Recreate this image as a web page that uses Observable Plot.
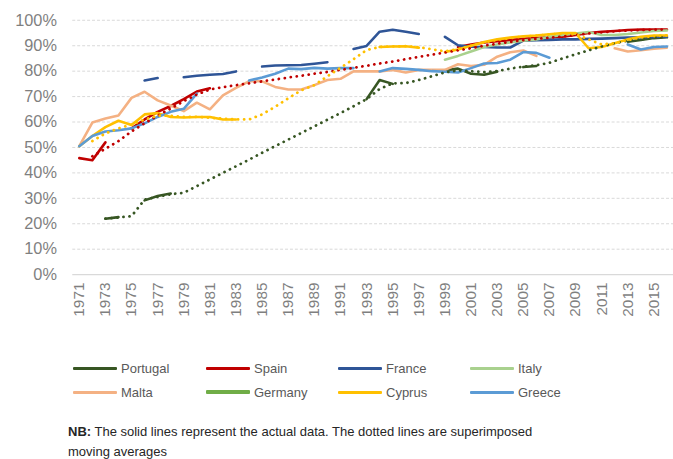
<!DOCTYPE html>
<html>
<head>
<meta charset="utf-8">
<script src="https://cdn.jsdelivr.net/npm/d3@7"></script>
<script src="https://cdn.jsdelivr.net/npm/@observablehq/plot@0.6"></script>
<style>
  html, body { margin: 0; padding: 0; background: #fff; }
  #wrap { position: relative; width: 673px; height: 459px; overflow: hidden; font-family: "Liberation Sans", Arial, sans-serif; }
  #chart { position: absolute; left: 0; top: 0; }
  .leg { position: absolute; display: flex; align-items: center; font-size: 13px; color: #595959; white-space: nowrap; }
  .leg .sw { width: 44px; margin-right: 4px; border-radius: 1px; }
  #note { position: absolute; left: 68px; top: 422px; font-size: 13px; line-height: 20px; color: #262626; }
</style>
</head>
<body>
<div id="wrap">
  <div id="chart"></div>
  <div id="legend"></div>
  <div id="note"><b>NB:</b> The solid lines represent the actual data. The dotted lines are superimposed<br>moving averages</div>
</div>
<script>
const years = [1971,1972,1973,1974,1975,1976,1977,1978,1979,1980,1981,1982,1983,1984,1985,1986,1987,1988,1989,1990,1991,1992,1993,1994,1995,1996,1997,1998,1999,2000,2001,2002,2003,2004,2005,2006,2007,2008,2009,2010,2011,2012,2013,2014,2015,2016];
const xTickYears = [1971,1973,1975,1977,1979,1981,1983,1985,1987,1989,1991,1993,1995,1997,1999,2001,2003,2005,2007,2009,2011,2013,2015];
const yTicks = [0,10,20,30,40,50,60,70,80,90,100];

const countries = ["Portugal","Spain","France","Italy","Malta","Germany","Cyprus","Greece"];
const colors = ["#375623","#C00000","#2F5597","#A9D18E","#F4B183","#70AD47","#FFC000","#5B9BD5"];

// actual data (null = no data)
const portugal = [null,null,22,22.6,null,29.2,30.9,31.9,null,null,null,null,null,null,null,null,null,null,null,null,null,null,69,76.5,75,null,null,null,80.3,81,79,78.6,79.8,null,81.6,82,null,null,null,null,null,null,91.6,92.3,93,93.3];
const spain = [45.8,45,52,null,57.5,61,64,66.3,69,72,73.3,null,null,null,null,null,null,null,null,null,null,null,null,null,null,null,null,null,null,89.5,90.5,91.3,91.8,92.2,92.7,93,93.3,93.5,94.2,95,95.5,95.8,96.2,96.4,96.4,96.4];
const france = [null,null,null,null,null,76.3,77.3,null,77.6,78.2,78.6,78.9,79.9,null,81.8,82.2,82.3,82.4,82.9,83.5,null,88.7,89.9,95.5,96.3,95.5,94.6,null,93.5,90.2,89.6,89.5,89.3,89.3,92,92.2,92.3,92.5,92.5,92.7,92.8,93,93.2,93.3,93.4,93.5];
const italy = [null,null,null,null,null,null,null,null,null,null,null,null,null,null,null,null,null,null,null,null,null,null,null,null,null,null,null,null,84.5,86,87.7,89.5,90.5,91.3,92,92.5,93.5,94.2,94.8,95.4,94.2,94.2,94.6,95.2,95.8,96];
const malta = [50.5,59.8,61.4,62.6,69.5,71.9,68.5,66.5,64.3,67.6,65,70.5,73.4,76,76,73.8,72.8,72.8,74.5,76.5,77,79.9,79.9,79.9,80.5,79.5,80.5,80.5,80.5,82.7,82,82.5,85.7,87.4,88.1,86,null,null,null,null,null,89,87.7,88.2,88.8,89.2];
const germany = years.map(() => null);
const cyprus = [50.5,54.5,58,60.5,58.8,63,63.5,62,61.8,62,62,61,61,null,null,null,null,null,null,null,null,null,null,89.5,89.7,89.8,89.2,null,87.5,88.5,90,91.5,92.5,93.2,93.7,94,94.5,95,95,89,89.5,91,92.5,93.5,94,94];
const greece = [50.5,54.5,56.3,56.8,57.5,59.5,62,64,65.2,71.2,null,null,null,76.3,77.5,79,81,80.8,81.3,81,81.2,81.2,null,79.9,81.2,80.9,80.5,80,79.8,79.5,81.2,83,83.2,84.5,87.5,87.2,85.3,null,null,null,null,null,90.5,88.5,89.5,89.7];

// moving averages (dotted)
const portugalMA = [null,null,22,22.5,23,29.5,30.6,31.6,32.2,34.8,37.4,40,42.6,45.2,47.9,50.5,53.1,55.7,58.3,60.9,63.5,66.2,69,73,75.2,75.3,76.5,78,79.5,80.3,80,79.6,80,81,81.8,82.3,83.3,85,86.6,88.2,89.7,91,92,92.6,93.1,93.6];
const spainMA = [null,46.5,49.5,52.5,56.3,59.5,62.5,65.3,68.2,70.8,72.8,73.7,74.5,75.2,76,76.7,77.5,78.2,79,79.7,80.5,81.3,82.1,83,83.8,84.7,85.6,86.5,87.3,88.2,89,90,90.8,91.5,92.2,92.7,93.2,93.6,94.2,94.8,95.3,95.7,96,96.2,96.3,96.4];
const cyprusMA = [null,52.5,55.5,57.5,59,61,62.5,62.5,62,62,61.7,61.3,61,61,63,66,69.3,72.5,74.5,78,81.3,84.7,88.3,89.5,89.7,89.8,89.4,88.6,87.8,88.7,90,91.3,92.3,93,93.6,94,94.4,94.8,94.5,92.5,90.5,91,92.2,93.2,93.8,94.1];

const actual = {Portugal: portugal, Spain: spain, France: france, Italy: italy, Malta: malta, Germany: germany, Cyprus: cyprus, Greece: greece};
const averages = {Portugal: portugalMA, Spain: spainMA, Cyprus: cyprusMA};

const toRows = (obj) => Object.entries(obj).flatMap(([country, vals]) =>
  years.map((year, i) => ({year, value: vals[i], country})));
const solidRows = toRows(actual);
const maRows = toRows(averages);

const chart = Plot.plot({
  width: 680, height: 325,
  marginLeft: 73, marginRight: 0, marginTop: 20, marginBottom: 48,
  style: {fontFamily: '"Liberation Sans", Arial, sans-serif', background: "transparent"},
  x: {domain: [1970.5, 2016.5], label: null},
  y: {domain: [0, 100], label: null},
  color: {domain: countries, range: colors},
  marks: [
    Plot.ruleY(yTicks.filter(d => d > 0), {stroke: "#d9d9d9", strokeDasharray: "3 2", strokeWidth: 1}),
    Plot.ruleY([0], {stroke: "#d9d9d9", strokeWidth: 1.5}),
    Plot.axisY(yTicks, {tickSize: 0, tickPadding: 16, tickFormat: d => d + "%", fontSize: 16.5, fill: "#7f7f7f", label: null}),
    Plot.axisX(xTickYears, {tickSize: 0, tickPadding: 8, tickRotate: -90, tickFormat: d => String(d), fontSize: 15.5, fill: "#7f7f7f", label: null}),
    Plot.line(solidRows, {x: "year", y: "value", z: "country", stroke: "country", strokeWidth: 2.6}),
    Plot.line(maRows, {x: "year", y: "value", z: "country", stroke: "country", strokeWidth: 2.8, strokeLinecap: "round", strokeDasharray: "0.1 6"})
  ]
});
document.getElementById("chart").appendChild(chart);

// legend
const legend = document.getElementById("legend");
const colX = [73, 206, 338, 470];
const rowY = [360, 384];
countries.forEach((name, i) => {
  const item = document.createElement("div");
  item.className = "leg";
  item.style.left = colX[i % 4] + "px";
  item.style.top = rowY[Math.floor(i / 4)] + "px";
  item.style.height = "16px";
  const sw = document.createElement("span");
  sw.className = "sw";
  sw.style.background = colors[i];
  sw.style.height = name === "Germany" ? "4px" : "3px";
  const t = document.createElement("span");
  t.textContent = name;
  item.appendChild(sw);
  item.appendChild(t);
  legend.appendChild(item);
});
</script>
</body>
</html>
